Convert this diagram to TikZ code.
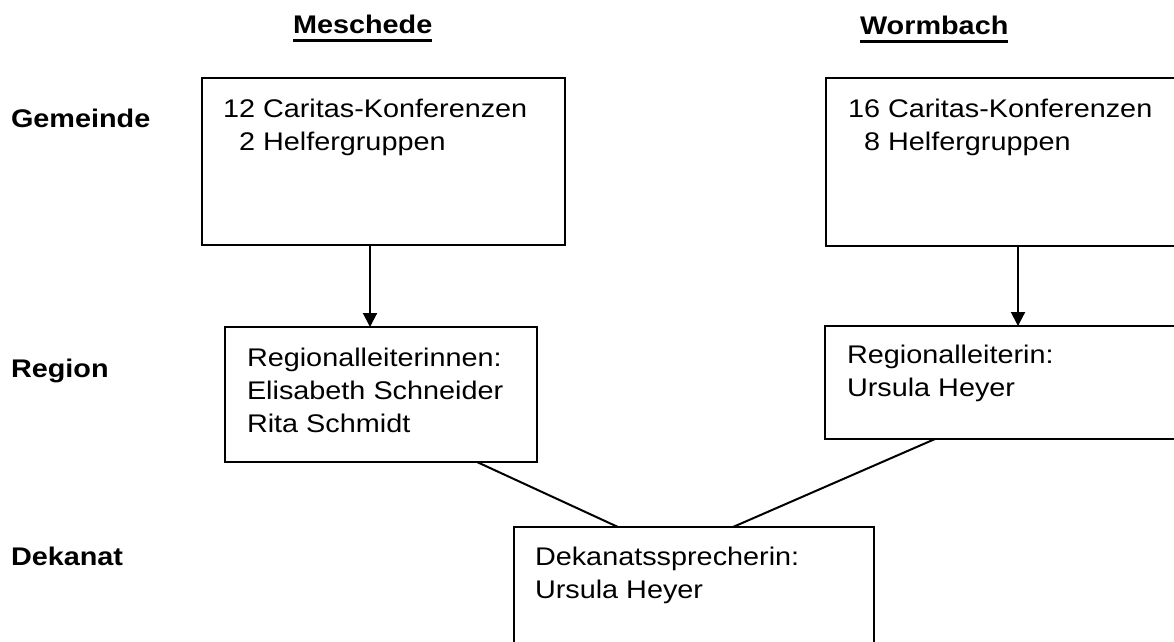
\documentclass[tikz,border=0pt]{standalone}
\usepackage{fontspec}
\setmainfont{Liberation Sans}[FakeStretch=1.13]
\usetikzlibrary{arrows.meta,calc}
\newcommand\mylines[1]{\vtop{\baselineskip=33pt\lineskiplimit=-100pt #1}}
\begin{document}
\begin{tikzpicture}[x=1pt,y=-1pt,
  every node/.style={inner sep=0pt,outer sep=0pt},
  box/.style={draw=black,line width=2pt,rectangle,anchor=north west},
  txt/.style={anchor=base west,font=\fontsize{25.5pt}{33pt}\selectfont},
  head/.style={anchor=base west,font=\fontsize{25.5pt}{33pt}\selectfont\bfseries},
  arr/.style={line width=2pt,-{Triangle[width=14pt,length=14pt]}},
  conn/.style={line width=2pt}]
\useasboundingbox (0,0) rectangle (1174,641);
\clip (0,0) rectangle (1174,641);
\fill[white] (0,0) rectangle (1174,641);
% headers
\node[head] (hM) at (293,33) {Meschede};
\node[head] (hW) at (860,34) {Wormbach};
\draw[line width=2.5pt] ([yshift=-7.5pt]hM.base west) -- ([yshift=-7.5pt]hM.base east);
\draw[line width=2.5pt] ([yshift=-7.5pt]hW.base west) -- ([yshift=-7.5pt]hW.base east);
% row labels
\node[head] (lG) at (11,127) {Gemeinde};
\node[head] (lR) at (11,377) {Region};
\node[head] (lD) at (11,565) {Dekanat};
% boxes
\node[box,minimum width=363pt,minimum height=167pt] (G1) at (202,78) {};
\node[box,minimum width=363pt,minimum height=168pt] (G2) at (826,78) {};
\node[box,minimum width=312pt,minimum height=135pt] (R1) at (225,327) {};
\node[box,minimum width=360pt,minimum height=113pt] (R2) at (825,326) {};
\node[box,minimum width=360pt,minimum height=160pt] (D) at (514,527) {};
% box texts
\node[txt] (G1t) at (223,117) {\mylines{\hbox{12 Caritas-Konferenzen}\hbox{\phantom{1}2 Helfergruppen}}};
\node[txt] (G2t) at (848,117) {\mylines{\hbox{16 Caritas-Konferenzen}\hbox{\phantom{1}8 Helfergruppen}}};
\node[txt] (R1t) at (247,366) {\mylines{\hbox{Regionalleiterinnen:}\hbox{Elisabeth Schneider}\hbox{Rita Schmidt}}};
\node[txt] (R2t) at (847,363) {\mylines{\hbox{Regionalleiterin:}\hbox{Ursula Heyer}}};
\node[txt] (Dt) at (535,565) {\mylines{\hbox{Dekanatssprecherin:}\hbox{Ursula Heyer}}};
% connectors
\draw[arr] ([xshift=168pt]G1.south west) -- ([xshift=145pt]R1.north west);
\draw[arr] ([xshift=192pt]G2.south west) -- ([xshift=193pt]R2.north west);
\draw[conn] ([xshift=252pt]R1.south west) -- ([xshift=104pt]D.north west);
\draw[conn] ([xshift=110pt]R2.south west) -- ([xshift=219pt]D.north west);
\end{tikzpicture}
\end{document}
